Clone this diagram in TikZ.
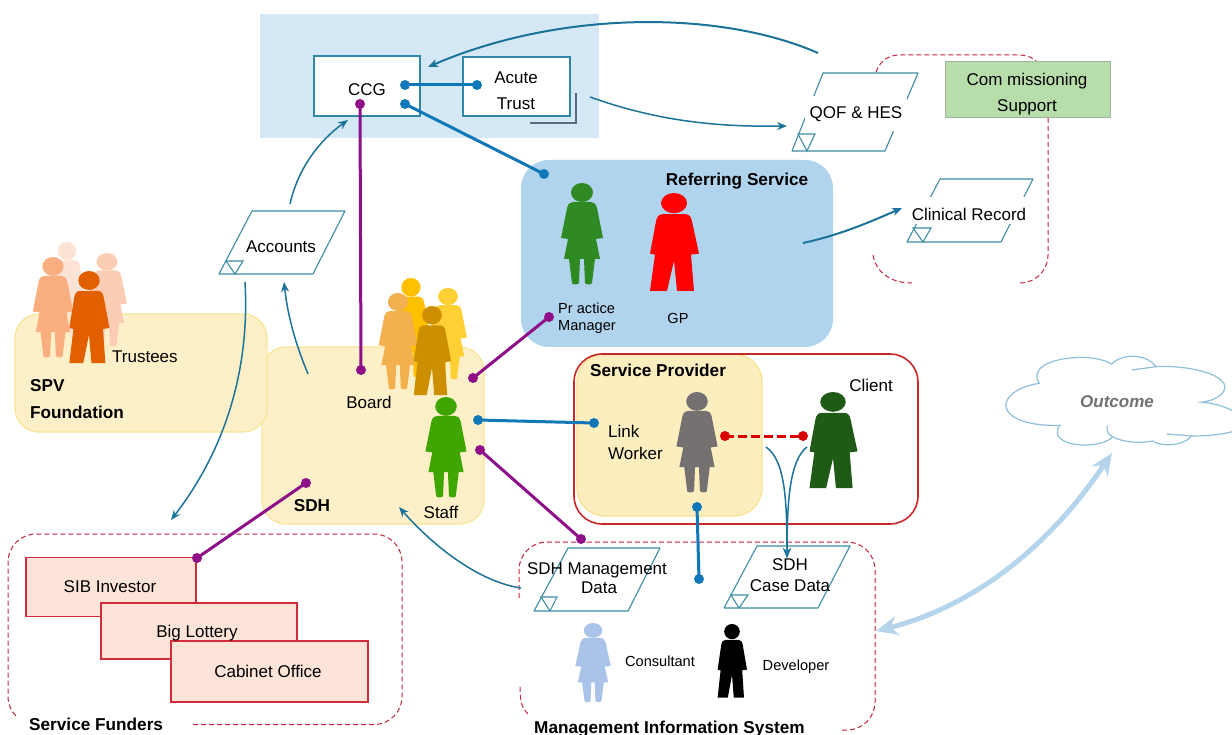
\documentclass[tikz,border=0pt]{standalone}
\usepackage{fontspec}
\setmainfont{Liberation Sans}
\usetikzlibrary{arrows.meta}
\definecolor{teal1}{HTML}{1C7399}
\definecolor{para}{HTML}{3E8DA3}
\definecolor{purp}{HTML}{8F0F88}
\definecolor{blu}{HTML}{1078B8}
\definecolor{dash1}{HTML}{C4243F}
\definecolor{yfill}{HTML}{FDF0C8}
\definecolor{yline}{HTML}{F8E598}
\definecolor{fbox}{HTML}{FDE4D8}
\definecolor{fline}{HTML}{D42B3A}
\tikzset{
 woman/.pic={
  \fill[pic actions] (0,9.5) ellipse (11 and 9.5);
  \fill[pic actions] (-9,19) .. controls (-12,19) and (-14,21) .. (-15,25) -- (-21,55) -- (-14,56) -- (-18,76) -- (-13,76) -- (-10,100) .. controls (-10,102) and (-4,102) .. (-3,100) -- (-2,76) -- (2,76) -- (3,100) .. controls (4,102) and (10,102) .. (10,100) -- (13,76) -- (18,76) -- (14,56) -- (21,55) -- (15,25) .. controls (14,21) and (12,19) .. (9,19) -- cycle;
 },
 man/.pic={
  \fill[pic actions] (0,10) ellipse (13 and 10);
  \fill[pic actions] (-11,21) .. controls (-15,21) and (-17,23) .. (-18,28) -- (-24,60) -- (-19,61) -- (-24,97) -- (-7,97) -- (0,67) -- (3,97) -- (20,97) -- (17,61) -- (25,60) -- (18,28) .. controls (17,23) and (15,21) .. (11,21) -- cycle;
 },
 txt/.style={inner sep=0pt,yshift=-1.8pt,font=\fontsize{17}{20}\selectfont,text height=12.5pt,text depth=3.5pt},
 small/.style={inner sep=0pt,yshift=-1.8pt,font=\fontsize{14.6}{18}\selectfont,text height=11pt,text depth=3pt},
 bold/.style={txt,font=\fontsize{17.2}{20}\selectfont\bfseries},
 group/.style={rounded corners=24pt,fill=yfill,draw=yline,line width=1.2pt},
 funder/.style={fill=fbox,draw=fline,line width=1.2pt},
 parabox/.style={fill=white,draw=para,line width=1.1pt,line join=round},
 tri/.style={draw=para,line width=1.1pt},
 dash1line/.style={draw=dash1,line width=1pt,dash pattern=on 5pt off 3pt},
 flow/.style={draw=teal1,line width=1.5pt,-{Stealth[length=10pt,width=8pt]}},
 dotp/.style={circle,fill=purp,inner sep=0pt,minimum size=10pt},
 dotb/.style={circle,fill=blu,inner sep=0pt,minimum size=10pt},
 dotr/.style={circle,fill=red!85!black,inner sep=0pt,minimum size=10pt},
 linkp/.style={draw=purp,line width=3pt},
 linkb/.style={draw=blu,line width=3pt},
}
\begin{document}
\begin{tikzpicture}[x=1pt,y=-1pt]
\useasboundingbox (0,0) rectangle (1232,735);
\clip (0,0) rectangle (1232,735);
% backgrounds
\fill[fill=white] (0,0) rectangle (1232,735);
\fill[color={rgb,255:red,213;green,232;blue,246}] (260,14) rectangle (599,138);
\draw[group] (262,347) rectangle (484,524);
\draw[group] (15,314) rectangle (267,432);
\fill[color={rgb,255:red,176;green,212;blue,238},rounded corners=28pt] (521,160) rectangle (833,347);
\draw[group,rounded corners=28pt,fill={rgb,255:red,253;green,238;blue,192},draw={rgb,255:red,250;green,224;blue,139}] (577,354) rectangle (762,516);
\draw[draw={rgb,255:red,200;green,40;blue,42},line width=1.6pt,rounded corners=28pt] (574,354) rectangle (918,524);

% dashed groups
\draw[dash1line,rounded corners=28pt] (193,724.5) -- (402,724.5) -- (402,534) -- (8,534) -- (8,724.5) -- (30,724.5);
\fill[white] (14,716) rectangle (192,735);
\draw[dash1line,rounded corners=28pt] (842,730) -- (875,730) -- (875,542) -- (519,542) -- (519,598);
\draw[dash1line] (520,687) .. controls (520,702) and (522,708) .. (528,714);
\draw[dash1line] (876,72) .. controls (880,61) and (888,55) .. (900,55) -- (1018,55) .. controls (1026,55) and (1032,57) .. (1036,61);
\draw[dash1line,rounded corners=28pt] (1048,118) -- (1048,283) -- (1018,283);
\draw[dash1line] (873,255) .. controls (876,272) and (890,283) .. (912,283);

% CCG group
\node[draw=para!70!blu,fill=white,line width=2.2pt,minimum width=106pt,minimum height=60pt,inner sep=0pt] (ccg) at (367,86) {};
\node[draw=para!70!blu,fill=white,line width=2.2pt,minimum width=107pt,minimum height=59pt,inner sep=0pt] (acute) at (516.5,86.5) {};
\draw[draw={rgb,255:red,90;green,107;blue,128},line width=1.8pt] (530,123) -- (576,123) -- (576,93);
\node[txt] (ccgt) at (367,89) {CCG};
\node[txt] (act) at (516,77) {Acute};
\node[txt] (trt) at (516,103) {Trust};

% people, trustees
\pic[fill={rgb,255:red,251;green,227;blue,214},xscale=.85,yscale=.95] at (67,242) {woman};
\pic[fill={rgb,255:red,251;green,205;blue,181},xscale=.95,yscale=.92] at (107,253) {woman};
\pic[fill={rgb,255:red,249;green,174;blue,128},xscale=.96,yscale=.99] at (53,257) {woman};
\pic[fill={rgb,255:red,226;green,95;blue,0},xscale=.82,yscale=.95] at (89,271) {man};
% board
\pic[fill={rgb,255:red,255;green,192;blue,0},xscale=.88,yscale=.98] at (411,278) {woman};
\pic[fill={rgb,255:red,255;green,208;blue,51},xscale=.9,yscale=.9] at (448,288) {woman};
\pic[fill={rgb,255:red,242;green,177;blue,78},xscale=.92,yscale=.95] at (398,293) {woman};
\pic[fill={rgb,255:red,204;green,143;blue,0},xscale=.76,yscale=.92] at (432,306) {man};
\pic[fill={rgb,255:red,63;green,165;blue,0},xscale=.98,yscale=.99] at (446,397) {woman};
% referring
\pic[fill={rgb,255:red,47;green,138;blue,36}] at (582,183) {woman};
\pic[fill=red,yscale=1.01] at (674,193) {man};
% provider
\pic[fill={rgb,255:red,118;green,113;blue,113},xscale=.98,yscale=.99] at (697,392) {woman};
\pic[fill={rgb,255:red,31;green,91;blue,23},xscale=.98,yscale=.99] at (833,392) {man};
% MIS
\pic[fill={rgb,255:red,169;green,196;blue,232},xscale=.84,yscale=.78] at (593,623) {woman};
\pic[fill=black,xscale=.6,yscale=.76] at (732,624) {man};

% funders
\node[funder,minimum width=170pt,minimum height=59pt,inner sep=0pt] (sib) at (111,587) {};
\node[funder,minimum width=196pt,minimum height=56pt,inner sep=0pt] (big) at (199,631) {};
\node[funder,minimum width=197pt,minimum height=61pt,inner sep=0pt] (cab) at (269.5,671.5) {};
\node[txt] at (110,586) {SIB Investor};
\node[txt] at (197,631) {Big Lottery};
\node[txt] at (268,671) {Cabinet Office};

% green box
\node[fill={rgb,255:red,183;green,221;blue,170},draw={rgb,255:red,160;green,175;blue,160},line width=1pt,minimum width=165pt,minimum height=56pt,inner sep=0pt] (com) at (1027.5,90) {};
\node[txt] at (1027,79) {Com missioning};
\node[txt] at (1027,105) {Support};

% parallelograms
\draw[parabox] (252,211) -- (345,211) -- (313,274) -- (219,274) -- cycle;
\draw[tri] (226,261) -- (243,261) -- (235,274) -- cycle;
\node[txt] (acc) at (281,246) {Accounts};

\draw[parabox] (823,73) -- (918,73) -- (885,151) -- (792,151) -- cycle;
\draw[tri] (798,134) -- (815,134) -- (807,151) -- cycle;
\node[txt,fill=white,minimum width=102pt,minimum height=35pt] (qof) at (856,112) {QOF \& HES};

\draw[parabox] (940,179) -- (1033,179) -- (1001,242) -- (907,242) -- cycle;
\draw[tri] (913,228) -- (931,228) -- (923,242) -- cycle;
\node[txt,fill=white,minimum width=124pt,minimum height=27pt] (clin) at (969,209) {};
\node[txt] (clint) at (969,214) {Clinical Record};

\draw[parabox] (568,548) -- (660,548) -- (628,611) -- (534,611) -- cycle;
\draw[tri] (541,597) -- (557,597) -- (550,611) -- cycle;
\node[txt] (m1) at (597,568) {SDH Management};
\node[txt] (m2) at (599,587) {Data};

\draw[parabox] (757,546) -- (850,546) -- (818,608) -- (724,608) -- cycle;
\draw[tri] (731,595) -- (748,595) -- (739,608) -- cycle;
\node[txt] (c1) at (790,564) {SDH};
\node[txt] (c2) at (790,585) {Case Data};

% cloud
\begin{scope}[shift={(980,340)},x=.3333pt,y=-.3333pt]
\filldraw[fill=white,draw={rgb,255:red,143;green,192;blue,218},line width=1.2pt]
 (178,130) .. controls (150,90) and (200,55) .. (300,52) .. controls (340,52) and (375,60) .. (395,72)
 .. controls (425,40) and (500,40) .. (528,80) .. controls (620,75) and (730,100) .. (735,140)
 .. controls (735,165) and (700,182) .. (665,187) .. controls (720,190) and (780,215) .. (800,250)
 .. controls (780,280) and (700,288) .. (635,288) .. controls (610,320) and (540,320) .. (518,303)
 .. controls (480,312) and (420,305) .. (398,290) .. controls (370,325) and (240,325) .. (232,280)
 .. controls (230,270) and (235,262) .. (240,256) .. controls (130,260) and (70,225) .. (78,190)
 .. controls (85,155) and (140,135) .. (178,130) -- cycle;
\draw[draw={rgb,255:red,143;green,192;blue,218},line width=1.2pt] (528,80) -- (455,90);
\draw[draw={rgb,255:red,143;green,192;blue,218},line width=1.2pt] (398,290) .. controls (385,285) and (378,270) .. (382,258);
\draw[draw={rgb,255:red,143;green,192;blue,218},line width=1.2pt] (635,288) -- (560,282);
\end{scope}
\node[txt,font=\fontsize{17}{20}\selectfont\bfseries\itshape,text={rgb,255:red,118;green,113;blue,113}] (out) at (1117,401) {Outcome};

% labels
\node[txt,anchor=west] at (112,356) {Trustees};
\node[bold,anchor=west] at (30,385) {SPV};
\node[bold,anchor=west] at (30,412) {Foundation};
\node[txt] at (369,402) {Board};
\node[bold] at (312,505) {SDH};
\node[txt] at (441,512) {Staff};
\node[bold] at (737,179) {Referring Service};
\node[small,anchor=west] at (558,308) {Pr actice};
\node[small,anchor=west] at (558,325) {Manager};
\node[small] at (678,318) {GP};
\node[bold,anchor=west] at (590,370) {Service Provider};
\node[txt,anchor=west] at (608,431) {Link};
\node[txt,anchor=west] at (608,453) {Worker};
\node[txt] at (871,385) {Client};
\node[small] at (660,661) {Consultant};
\node[small] at (796,665) {Developer};
\node[bold,anchor=west] at (29,724) {Service Funders};
\node[bold,anchor=west] at (534,727) {Management Information System};

% dot nodes
\node[dotp] (pccg) at (360,104) {};
\node[dotp] (pboard) at (361,370) {};
\node[dotp] (psdh) at (306,483) {};
\node[dotp] (psib) at (197,558) {};
\node[dotp] (pbr) at (473,378) {};
\node[dotp] (ppm) at (549,317) {};
\node[dotp] (pst) at (480,450) {};
\node[dotp] (pmis) at (581,539) {};
\node[dotb] (bccg) at (405,85) {};
\node[dotb] (bac) at (477,85) {};
\node[dotb] (bccg2) at (405,104) {};
\node[dotb] (bref) at (544,174) {};
\node[dotb] (bst) at (478,420) {};
\node[dotb] (blink) at (594,423) {};
\node[dotb] (blw) at (697,507) {};
\node[dotb] (bmis) at (699,579) {};
\node[dotr] (rlw) at (725,436) {};
\node[dotr] (rcl) at (803,436) {};

\draw[linkp] (pccg.center) -- (pboard.center);
\draw[linkp] (psdh.center) -- (psib.center);
\draw[linkp] (pbr.center) -- (ppm.center);
\draw[linkp] (pst.center) -- (pmis.center);
\draw[linkb] (bccg.center) -- (bac.center);
\draw[linkb] (bccg2.center) -- (bref.center);
\draw[linkb] (bst.center) -- (blink.center);
\draw[linkb] (blw.center) -- (bmis.center);
\draw[draw=red!85!black,line width=3pt,dash pattern=on 9pt off 4pt] (rlw.center) -- (rcl.center);

% flow arrows
\coordinate (f1a) at (818,53); \coordinate (f1b) at (428,67);
\coordinate (f2a) at (590,97); \coordinate (f2b) at (787,126);
\coordinate (f3a) at (290,204); \coordinate (f3b) at (348,120);
\coordinate (f4a) at (308,374); \coordinate (f4b) at (284,282);
\coordinate (f5a) at (245,282); \coordinate (f5b) at (171,520);
\coordinate (f6a) at (521,588); \coordinate (f6b) at (399,507);
\coordinate (f7a) at (803,243); \coordinate (f7b) at (902,208);
\coordinate (f8a) at (766,447); \coordinate (f8b) at (787,558);
\coordinate (f9a) at (807,447);
\draw[flow,line width=2pt] (f1a) .. controls (720,10) and (560,10) .. (f1b);
\draw[flow] (f2a) .. controls (660,122) and (720,127) .. (f2b);
\draw[flow] (f3a) .. controls (298,168) and (320,140) .. (f3b);
\draw[flow] (f4a) .. controls (296,345) and (288,318) .. (f4b);
\draw[flow] (f5a) .. controls (250,370) and (225,450) .. (f5b);
\draw[flow] (f6a) .. controls (480,582) and (435,548) .. (f6b);
\draw[flow,line width=2pt] (f7a) .. controls (840,235) and (870,222) .. (f7b);
\draw[flow] (f8a) .. controls (785,460) and (787,500) .. (f8b);
\draw[flow] (f9a) .. controls (790,460) and (787,500) .. (f8b);
\coordinate (o1) at (1112,453); \coordinate (o2) at (876,631);
\draw[draw={rgb,255:red,181;green,213;blue,236},line width=5pt,{Stealth[length=22pt,width=19pt]}-{Stealth[length=22pt,width=19pt]}] (o1) .. controls (1040,560) and (960,610) .. (o2);
\end{tikzpicture}
\end{document}
